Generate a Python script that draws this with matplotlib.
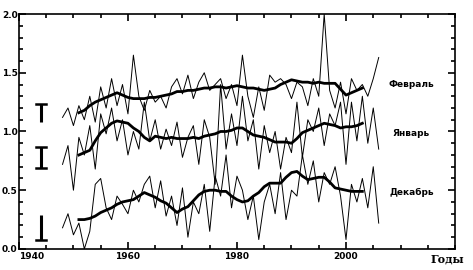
import matplotlib
matplotlib.use("Agg")
import matplotlib.pyplot as plt
import numpy as np
from matplotlib.ticker import MultipleLocator

# annual values, 1948-2006
years = np.arange(1948, 2007)
feb_annual = [1.12, 1.20, 1.05, 1.22, 1.10, 1.30, 1.08, 1.38, 1.20, 1.45,
              1.22, 1.40, 1.15, 1.65, 1.30, 1.18, 1.35, 1.25, 1.30, 1.20,
              1.38, 1.45, 1.32, 1.48, 1.28, 1.42, 1.50, 1.35, 1.40, 1.45,
              1.28, 1.40, 1.22, 1.65, 1.30, 1.12, 1.38, 1.18, 1.48, 1.42,
              1.45, 1.40, 1.28, 1.42, 1.38, 1.22, 1.45, 1.30, 2.00, 1.35,
              1.20, 1.42, 1.15, 1.45, 1.35, 1.40, 1.30, 1.45, 1.63]
jan_annual = [0.72, 0.88, 0.50, 0.95, 0.80, 1.05, 0.68, 1.15, 0.98, 1.20,
              0.92, 1.10, 0.80, 1.00, 0.85, 1.25, 0.92, 1.10, 0.85, 1.02,
              0.88, 1.08, 0.78, 0.95, 1.05, 0.72, 1.10, 0.95, 0.55, 1.40,
              0.85, 1.15, 0.88, 1.30, 0.92, 1.10, 0.68, 1.05, 0.82, 1.00,
              0.68, 0.95, 0.82, 1.25, 0.78, 1.10, 1.00, 1.20, 0.88, 1.15,
              1.05, 1.25, 0.72, 1.25, 0.92, 1.30, 0.90, 1.20, 0.85]
dec_annual = [0.18, 0.30, 0.12, 0.22, 0.00, 0.15, 0.55, 0.60, 0.35, 0.25,
              0.45, 0.38, 0.30, 0.50, 0.40, 0.55, 0.62, 0.35, 0.58, 0.28,
              0.45, 0.20, 0.52, 0.10, 0.40, 0.30, 0.55, 0.15, 0.62, 0.45,
              0.80, 0.35, 0.62, 0.50, 0.25, 0.45, 0.08, 0.40, 0.55, 0.30,
              0.65, 0.25, 0.50, 0.45, 0.80, 0.55, 0.75, 0.40, 0.65, 0.55,
              0.70, 0.45, 0.08, 0.55, 0.40, 0.60, 0.35, 0.70, 0.22]

# smoothed values, 1951-2003
smooth_years = np.arange(1951, 2004)
feb_smooth = [1.16, 1.18, 1.22, 1.25, 1.27, 1.29, 1.31, 1.33, 1.31, 1.29,
              1.28, 1.28, 1.28, 1.29, 1.29, 1.30, 1.31, 1.32, 1.34, 1.34,
              1.35, 1.35, 1.36, 1.37, 1.37, 1.38, 1.38, 1.37, 1.38, 1.39,
              1.38, 1.37, 1.37, 1.36, 1.35, 1.36, 1.37, 1.40, 1.42, 1.44,
              1.43, 1.42, 1.42, 1.41, 1.42, 1.41, 1.41, 1.41, 1.36, 1.31,
              1.33, 1.35, 1.37]
jan_smooth = [0.80, 0.82, 0.84, 0.92, 0.99, 1.03, 1.07, 1.09, 1.08, 1.07,
              1.03, 1.00, 0.95, 0.92, 0.96, 0.95, 0.94, 0.95, 0.94, 0.94,
              0.94, 0.95, 0.94, 0.96, 0.97, 0.98, 1.00, 1.00, 1.01, 1.03,
              1.03, 1.00, 0.97, 0.96, 0.95, 0.93, 0.91, 0.91, 0.91, 0.90,
              0.94, 0.99, 1.01, 1.03, 1.05, 1.07, 1.06, 1.05, 1.03, 1.04,
              1.04, 1.05, 1.07]
dec_smooth = [0.25, 0.25, 0.26, 0.28, 0.31, 0.33, 0.35, 0.38, 0.40, 0.41,
              0.42, 0.45, 0.48, 0.46, 0.44, 0.41, 0.39, 0.35, 0.31, 0.34,
              0.36, 0.41, 0.46, 0.49, 0.50, 0.50, 0.49, 0.49, 0.45, 0.42,
              0.40, 0.41, 0.45, 0.48, 0.53, 0.56, 0.56, 0.56, 0.61, 0.65,
              0.66, 0.62, 0.59, 0.60, 0.61, 0.61, 0.57, 0.52, 0.51, 0.50,
              0.49, 0.49, 0.49]

series_names = ["Февраль", "Январь", "Декабрь"]
label_y = [1.40, 0.98, 0.485]

# error bars on the left: (low, high)
err_lo = [1.08, 0.69, 0.08]
err_hi = [1.23, 0.87, 0.29]
err_caps = [("top",), ("top", "bottom"), ("bottom",)]

fig = plt.figure(figsize=(4.73, 2.70), dpi=100)
ax = fig.add_axes([0.040, 0.078, 0.922, 0.870])

for annual, smooth in [(feb_annual, feb_smooth), (jan_annual, jan_smooth),
                       (dec_annual, dec_smooth)]:
    ax.plot(years, annual, color="black", lw=0.7)
    ax.plot(smooth_years, smooth, color="black", lw=2.0)

for name, y in zip(series_names, label_y):
    ax.text(2012, y, name, ha="center", va="center", fontsize=6.5,
            fontweight="bold", family="DejaVu Sans")

ex = 1944
cw = 0.9
for lo, hi, caps in zip(err_lo, err_hi, err_caps):
    ax.plot([ex, ex], [lo, hi], color="black", lw=2.2, solid_capstyle="butt")
    if "top" in caps:
        ax.plot([ex - cw, ex + cw], [hi, hi], color="black", lw=1.8)
    if "bottom" in caps:
        ax.plot([ex - cw, ex + cw], [lo, lo], color="black", lw=1.8)

ax.set_xlim(1940, 2020)
ax.set_ylim(0.0, 2.0)
ax.xaxis.set_major_locator(MultipleLocator(20))
ax.xaxis.set_minor_locator(MultipleLocator(5))
ax.yaxis.set_major_locator(MultipleLocator(0.5))
ax.yaxis.set_minor_locator(MultipleLocator(0.1))
ax.tick_params(which="both", direction="in", top=True, right=True,
               width=1.2, labelsize=6.5, pad=2)
ax.tick_params(which="major", length=5)
ax.tick_params(which="minor", length=3)
ax.set_xticks([1940, 1960, 1980, 2000])
ax.set_xticklabels(["1940", "1960", "1980", "2000"], fontweight="bold")
ax.set_yticks([0.0, 0.5, 1.0, 1.5, 2.0])
ax.set_yticklabels(["0.0", "0.5", "1.0", "1.5", "2.0"], fontweight="bold")
ax.tick_params(axis="y", pad=1)
for lab in ax.get_xticklabels()[:1]:
    lab.set_horizontalalignment("left")
for s in ax.spines.values():
    s.set_linewidth(1.2)

fig.text(0.945, 0.040, "Годы", ha="center", va="center", fontsize=8,
         fontweight="bold", family="DejaVu Serif")

fig.savefig("out.png", dpi=100)
